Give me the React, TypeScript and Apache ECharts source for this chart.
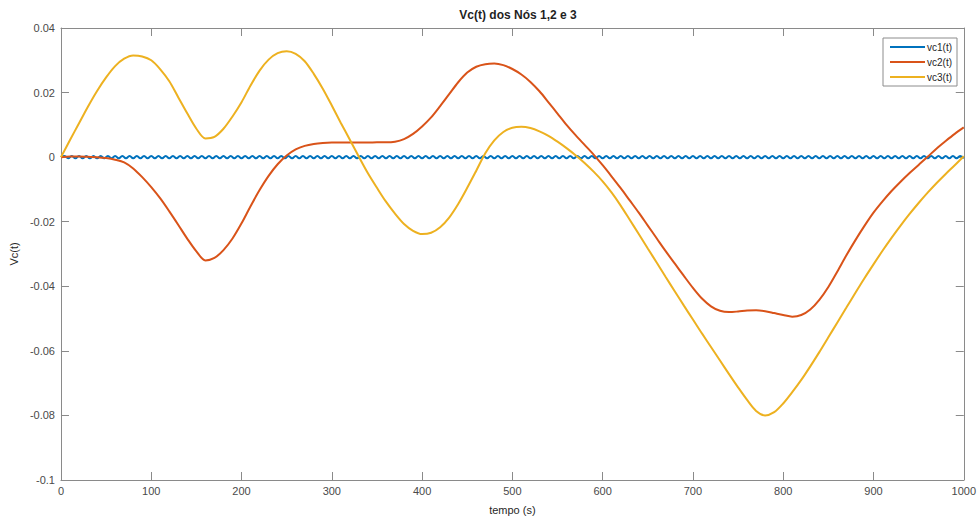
import React, { useEffect, useRef } from "react";
import * as echarts from "echarts";

const TITLE = "Vc(t) dos Nós 1,2 e 3";
const X_NAME = "tempo (s)";
const Y_NAME = "Vc(t)";
const SERIES_NAMES = ["vc1(t)", "vc2(t)", "vc3(t)"];
const COLORS = ["#0072BD", "#D95319", "#EDB120"];

// vc1(t): small fast oscillation around 0, sampled every 4 s (extrema)
const VC1_STEP = 4;
const vc1Values = [
  0,
  0.00035, -0.00035, 0.00035, -0.00035, 0.00035, -0.00035, 0.00035, -0.00035, 0.00035, -0.00035,
  0.00035, -0.00035, 0.00035, -0.00035, 0.00035, -0.00035, 0.00035, -0.00035, 0.00035, -0.00035,
  0.00035, -0.00035, 0.00035, -0.00035, 0.00035, -0.00035, 0.00035, -0.00035, 0.00035, -0.00035,
  0.00035, -0.00035, 0.00035, -0.00035, 0.00035, -0.00035, 0.00035, -0.00035, 0.00035, -0.00035,
  0.00035, -0.00035, 0.00035, -0.00035, 0.00035, -0.00035, 0.00035, -0.00035, 0.00035, -0.00035,
  0.00035, -0.00035, 0.00035, -0.00035, 0.00035, -0.00035, 0.00035, -0.00035, 0.00035, -0.00035,
  0.00035, -0.00035, 0.00035, -0.00035, 0.00035, -0.00035, 0.00035, -0.00035, 0.00035, -0.00035,
  0.00035, -0.00035, 0.00035, -0.00035, 0.00035, -0.00035, 0.00035, -0.00035, 0.00035, -0.00035,
  0.00035, -0.00035, 0.00035, -0.00035, 0.00035, -0.00035, 0.00035, -0.00035, 0.00035, -0.00035,
  0.00035, -0.00035, 0.00035, -0.00035, 0.00035, -0.00035, 0.00035, -0.00035, 0.00035, -0.00035,
  0.00035, -0.00035, 0.00035, -0.00035, 0.00035, -0.00035, 0.00035, -0.00035, 0.00035, -0.00035,
  0.00035, -0.00035, 0.00035, -0.00035, 0.00035, -0.00035, 0.00035, -0.00035, 0.00035, -0.00035,
  0.00035, -0.00035, 0.00035, -0.00035, 0.00035, -0.00035, 0.00035, -0.00035, 0.00035, -0.00035,
  0.00035, -0.00035, 0.00035, -0.00035, 0.00035, -0.00035, 0.00035, -0.00035, 0.00035, -0.00035,
  0.00035, -0.00035, 0.00035, -0.00035, 0.00035, -0.00035, 0.00035, -0.00035, 0.00035, -0.00035,
  0.00035, -0.00035, 0.00035, -0.00035, 0.00035, -0.00035, 0.00035, -0.00035, 0.00035, -0.00035,
  0.00035, -0.00035, 0.00035, -0.00035, 0.00035, -0.00035, 0.00035, -0.00035, 0.00035, -0.00035,
  0.00035, -0.00035, 0.00035, -0.00035, 0.00035, -0.00035, 0.00035, -0.00035, 0.00035, -0.00035,
  0.00035, -0.00035, 0.00035, -0.00035, 0.00035, -0.00035, 0.00035, -0.00035, 0.00035, -0.00035,
  0.00035, -0.00035, 0.00035, -0.00035, 0.00035, -0.00035, 0.00035, -0.00035, 0.00035, -0.00035,
  0.00035, -0.00035, 0.00035, -0.00035, 0.00035, -0.00035, 0.00035, -0.00035, 0.00035, -0.00035,
  0.00035, -0.00035, 0.00035, -0.00035, 0.00035, -0.00035, 0.00035, -0.00035, 0.00035, -0.00035,
  0.00035, -0.00035, 0.00035, -0.00035, 0.00035, -0.00035, 0.00035, -0.00035, 0.00035, -0.00035,
  0.00035, -0.00035, 0.00035, -0.00035, 0.00035, -0.00035, 0.00035, -0.00035, 0.00035, -0.00035,
  0.00035, -0.00035, 0.00035, -0.00035, 0.00035, -0.00035, 0.00035, -0.00035, 0.00035, -0.00035,
];

// vc2(t) and vc3(t), read every 10 s (t = 0, 10, ..., 1000)
const SAMPLE_STEP = 10;
const vc2Values = [
  0, 0.0002, 0.0002, 0.0001, 0, -0.0003, -0.0008, -0.0016, -0.0035, -0.0062,
  -0.0093, -0.0128, -0.0168, -0.021, -0.0253, -0.0292, -0.032, -0.0312, -0.0288, -0.0252,
  -0.0205, -0.0152, -0.0102, -0.0058, -0.0022, 0.0005, 0.0024, 0.0035, 0.0041, 0.0044,
  0.0045, 0.0045, 0.0045, 0.0045, 0.0045, 0.0046, 0.0046, 0.0048, 0.0056, 0.0072,
  0.0095, 0.0123, 0.0158, 0.0195, 0.0232, 0.0262, 0.028, 0.0288, 0.029, 0.0285,
  0.0273, 0.0256, 0.0233, 0.0204, 0.017, 0.0135, 0.01, 0.0068, 0.0038, 0.0008,
  -0.0025, -0.006, -0.0096, -0.0134, -0.0172, -0.0212, -0.0252, -0.0292, -0.033, -0.0368,
  -0.0405, -0.0438, -0.0462, -0.0476, -0.048, -0.0478, -0.0475, -0.0474, -0.0477, -0.0483,
  -0.0489, -0.0494, -0.0489, -0.0472, -0.0442, -0.0402, -0.0354, -0.0304, -0.0257, -0.0213,
  -0.0172, -0.0137, -0.0105, -0.0076, -0.0049, -0.0024, 0.0001, 0.0027, 0.005, 0.0072,
  0.0092,
];
const vc3Values = [
  0, 0.0053, 0.0105, 0.0157, 0.0205, 0.0247, 0.0282, 0.0305, 0.0315, 0.0312,
  0.03, 0.0272, 0.0235, 0.0185, 0.0135, 0.0088, 0.0058, 0.0063, 0.0088, 0.0126,
  0.017, 0.0222, 0.0268, 0.0302, 0.0322, 0.0328, 0.032, 0.0297, 0.0258, 0.0212,
  0.016, 0.0106, 0.0054, 0.0001, -0.005, -0.0095, -0.0138, -0.0175, -0.0207, -0.0228,
  -0.0238, -0.0234, -0.0217, -0.0187, -0.0145, -0.0095, -0.0042, 0.0012, 0.0052, 0.0078,
  0.0091, 0.0094, 0.009, 0.008, 0.0066, 0.0048, 0.0028, 0.0006, -0.0018, -0.0045,
  -0.0075, -0.011, -0.015, -0.0194, -0.0238, -0.0283, -0.0327, -0.0372, -0.0416, -0.046,
  -0.0503, -0.0546, -0.0588, -0.063, -0.0672, -0.0713, -0.0752, -0.0786, -0.08, -0.079,
  -0.0763, -0.0728, -0.069, -0.0648, -0.0604, -0.0558, -0.0512, -0.0466, -0.042, -0.0375,
  -0.0332, -0.029, -0.025, -0.0212, -0.0176, -0.0142, -0.011, -0.008, -0.0052, -0.0025,
  0.0003,
];

const xTicks = { min: 0, max: 1000, interval: 100 };
const yTicks = { min: -0.1, max: 0.04, interval: 0.02 };

const FONT = "'Liberation Sans', Arial, Helvetica, sans-serif";
const AXIS_GRAY = "#8a8a8a";
const LABEL_GRAY = "#4a4a4a";

export default function App() {
  const ref = useRef<HTMLDivElement>(null);

  useEffect(() => {
    if (!ref.current) return;
    const chart = echarts.init(ref.current, undefined, { renderer: "svg" });

    const vc1 = vc1Values.map((v, i) => [i * VC1_STEP, v]);
    const vc2 = vc2Values.map((v, i) => [i * SAMPLE_STEP, v]);
    const vc3 = vc3Values.map((v, i) => [i * SAMPLE_STEP, v]);
    const data = [vc1, vc2, vc3];

    const axisCommon = {
      axisLine: { show: true, onZero: false, lineStyle: { color: AXIS_GRAY, width: 1 } },
      axisTick: { show: true, inside: true, length: 8, lineStyle: { color: AXIS_GRAY } },
      splitLine: { show: false },
    };

    chart.setOption({
      animation: false,
      backgroundColor: "#ffffff",
      textStyle: { fontFamily: FONT },
      title: {
        text: TITLE,
        left: 513,
        textAlign: "center",
        top: 4,
        textStyle: { fontSize: 12, fontWeight: "bold", color: "#1f1f1f", fontFamily: FONT },
      },
      legend: {
        data: SERIES_NAMES,
        orient: "vertical",
        right: 22,
        top: 38,
        itemWidth: 35,
        itemHeight: 10,
        itemGap: 5,
        padding: [4, 5, 4, 6],
        borderColor: "#8c8c8c",
        borderWidth: 1,
        backgroundColor: "#ffffff",
        itemStyle: { opacity: 0 },
        textStyle: { fontSize: 10, color: "#262626", fontFamily: FONT, padding: [0, 0, 0, -3] },
      },
      grid: { left: 59, right: 12, top: 28, bottom: 37, containLabel: false },
      xAxis: [
        {
          type: "value",
          position: "bottom",
          ...xTicks,
          ...axisCommon,
          name: X_NAME,
          nameLocation: "middle",
          nameGap: 24,
          nameTextStyle: { fontSize: 11, color: "#262626", fontFamily: FONT },
          axisLabel: {
            fontSize: 11,
            color: LABEL_GRAY,
            margin: 5,
            fontFamily: FONT,
            formatter: (v: number) => String(v),
          },
        },
        {
          type: "value",
          position: "top",
          ...xTicks,
          ...axisCommon,
          axisLabel: { show: false },
        },
      ],
      yAxis: [
        {
          type: "value",
          position: "left",
          ...yTicks,
          ...axisCommon,
          name: Y_NAME,
          nameLocation: "middle",
          nameGap: 30,
          nameRotate: 90,
          nameTextStyle: { fontSize: 11, color: "#262626", fontFamily: FONT },
          axisLabel: { fontSize: 11, color: LABEL_GRAY, margin: 6, fontFamily: FONT },
        },
        {
          type: "value",
          position: "right",
          ...yTicks,
          ...axisCommon,
          axisLabel: { show: false },
        },
      ],
      series: SERIES_NAMES.map((name, i) => ({
        name,
        type: "line",
        xAxisIndex: 0,
        yAxisIndex: 0,
        data: data[i],
        smooth: i === 0 ? 0.5 : 0.3,
        showSymbol: false,
        symbol: "none",
        color: COLORS[i],
        lineStyle: { color: COLORS[i], width: 2 },
        z: 2 + i,
      })),
    });

    return () => chart.dispose();
  }, []);

  return (
    <div
      ref={ref}
      style={{ position: "fixed", left: 0, top: 0, width: 979, height: 520, background: "#fff" }}
    />
  );
}
